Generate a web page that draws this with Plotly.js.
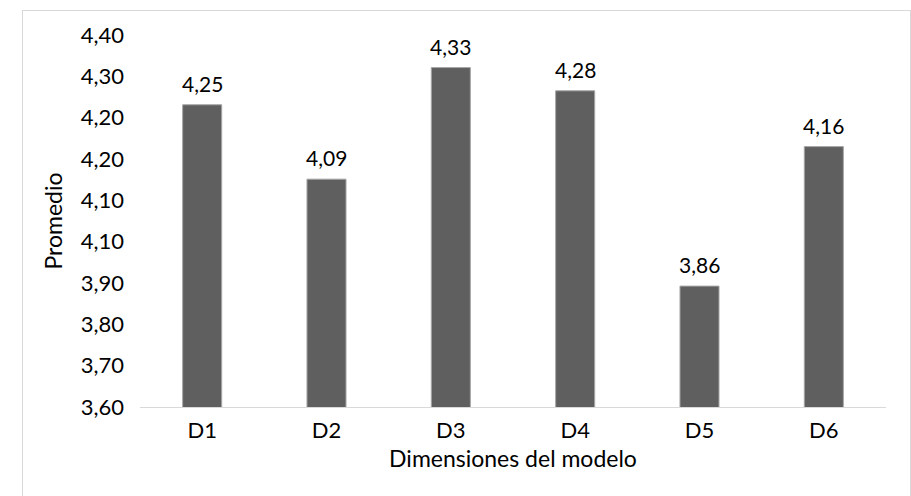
<!DOCTYPE html>
<html>
<head>
<meta charset="utf-8">
<script src="https://cdn.plot.ly/plotly-3.0.1.min.js"></script>
<style>
  html, body { margin: 0; padding: 0; background: #fff; }
  #wrap { position: relative; width: 911px; height: 496px; }
  #chart { position: absolute; left: 0; top: 0; width: 911px; height: 496px; }
  #frame { position: absolute; left: 22px; top: 10px; width: 887px; height: 490px;
           border: 1px solid #d9d9d9; pointer-events: none; }
</style>
</head>
<body>
<div id="wrap">
  <div id="chart"></div>
  <div id="frame"></div>
</div>
<script>
// Average score per model dimension
const dimensiones = ["D1", "D2", "D3", "D4", "D5", "D6"];
const promedios = [4.25, 4.09, 4.33, 4.28, 3.86, 4.16];

// Y axis ticks as printed on the axis
const yTickVals = [3.6, 3.6889, 3.7778, 3.8667, 3.9556, 4.0444, 4.1333, 4.2222, 4.3111, 4.4];
const yTickText = ["3,60", "3,70", "3,80", "3,90", "4,10", "4,10", "4,20", "4,20", "4,30", "4,40"];

const font = "Lato, 'Open Sans', sans-serif";

const trace = {
  type: "bar",
  x: dimensiones,
  y: promedios,
  marker: { color: "#5f5f5f", line: { color: "#a6a6a6", width: 1 } },
  hoverinfo: "skip"
};

// value labels above each bar
const labels = dimensiones.map((d, i) => ({
  x: d,
  y: promedios[i],
  xref: "x",
  yref: "y",
  text: promedios[i].toFixed(2).replace(".", ","),
  showarrow: false,
  yanchor: "bottom",
  yshift: 7,
  font: { family: font, size: 21, color: "#000" }
}));

const layout = {
  width: 911,
  height: 496,
  separators: ",.",
  margin: { l: 140, r: 25, t: 35, b: 89 },
  paper_bgcolor: "#fff",
  plot_bgcolor: "#fff",
  bargap: 0.686,
  showlegend: false,
  font: { family: font, color: "#000" },
  annotations: labels,
  xaxis: {
    type: "category",
    showgrid: false,
    showline: true,
    linecolor: "#d9d9d9",
    linewidth: 1,
    ticks: "",
    ticklabelstandoff: 4,
    tickfont: { family: font, size: 22, color: "#000" },
    title: { text: "Dimensiones del modelo", font: { family: font, size: 23, color: "#000" }, standoff: 8 },
    automargin: false
  },
  yaxis: {
    range: [3.6, 4.4],
    showgrid: false,
    zeroline: false,
    showline: false,
    ticks: "",
    tickvals: yTickVals,
    ticktext: yTickText,
    ticklabelstandoff: 15,
    tickfont: { family: font, size: 22, color: "#000" },
    title: { text: "Promedio", font: { family: font, size: 23, color: "#000" }, standoff: 11 },
    automargin: false
  }
};

Plotly.newPlot("chart", [trace], layout, { displayModeBar: false, staticPlot: true });
</script>
</body>
</html>
